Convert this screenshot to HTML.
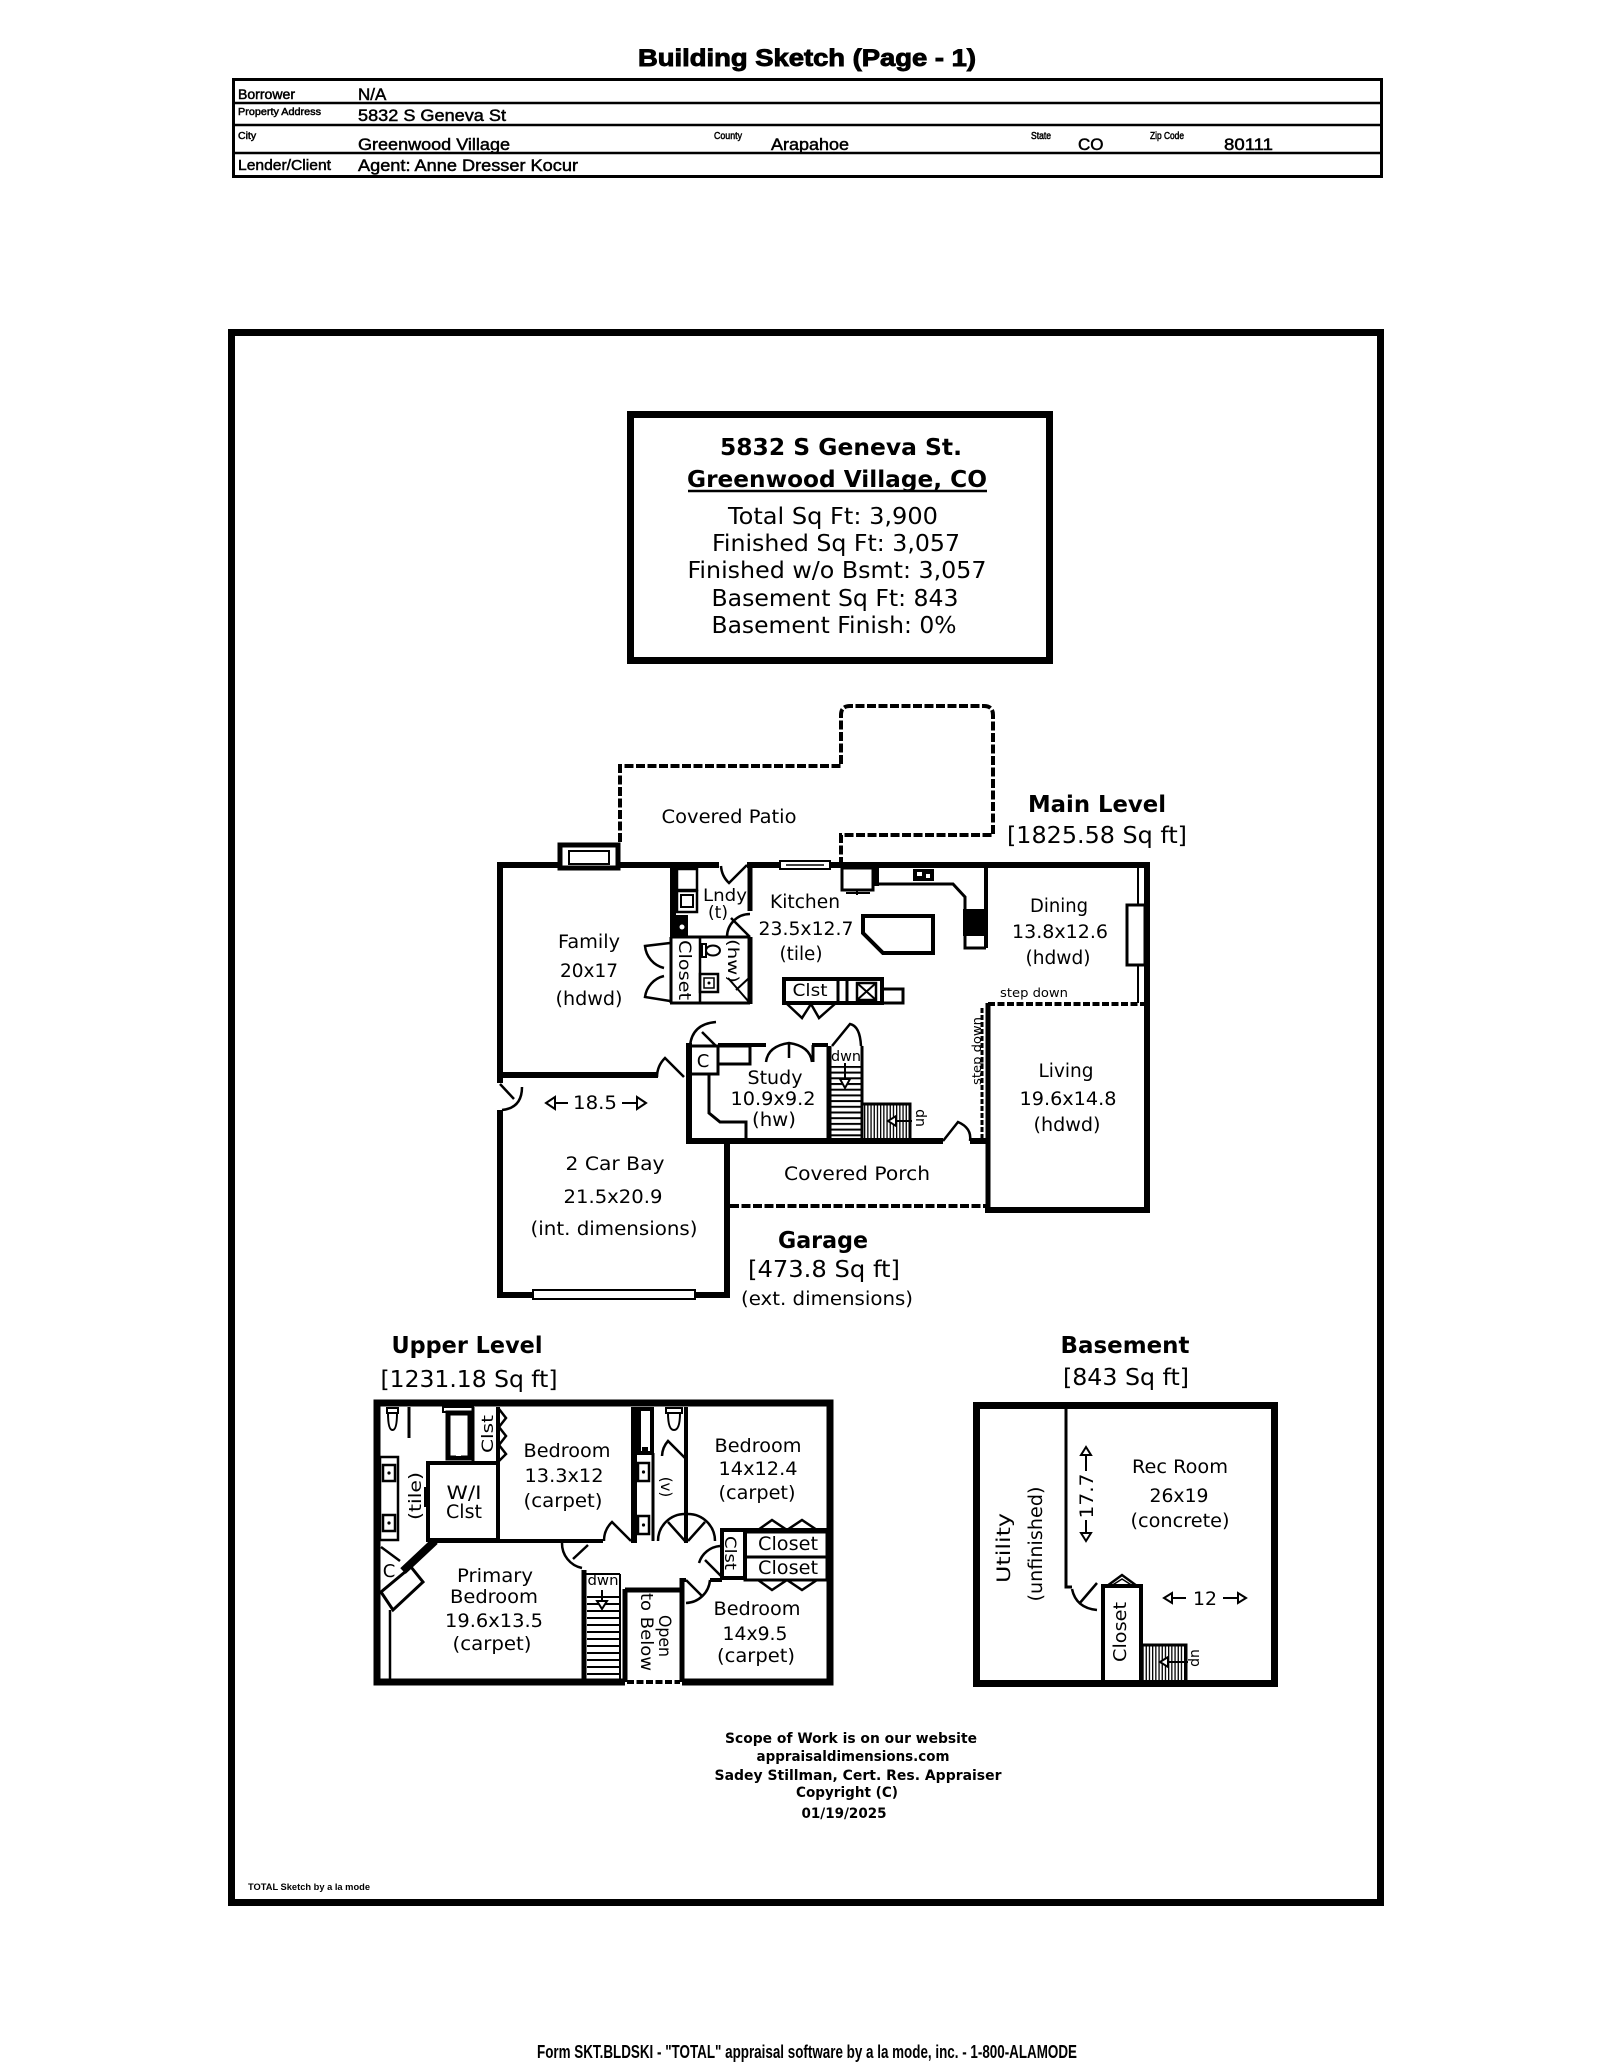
<!DOCTYPE html>
<html><head><meta charset="utf-8"><style>
html,body{margin:0;padding:0;background:#fff}
svg{display:block}
.d{font-family:"DejaVu Sans",sans-serif;fill:#000;text-anchor:middle}
.l{font-family:"Liberation Sans",Arial,sans-serif;fill:#000}
.s{fill:none;stroke:#000}
</style></head><body>
<svg xmlns="http://www.w3.org/2000/svg" width="1600" height="2071" viewBox="0 0 1600 2071">
<defs>
<pattern id="hz" width="10" height="5.7" patternUnits="userSpaceOnUse"><rect width="10" height="2" fill="#000"/></pattern>
<pattern id="hz2" width="10" height="7" patternUnits="userSpaceOnUse"><rect width="10" height="2" fill="#000"/></pattern>
<pattern id="vt" width="3.2" height="10" patternUnits="userSpaceOnUse"><rect width="1.3" height="10" fill="#000"/></pattern>
</defs>
<rect width="1600" height="2071" fill="#fff"/>

<!-- HEADER -->
<text class="l" x="807" y="66" font-size="24" font-weight="bold" text-anchor="middle" textLength="338" lengthAdjust="spacingAndGlyphs" stroke="#000" stroke-width="0.9">Building Sketch (Page - 1)</text>
<rect x="233.5" y="79.5" width="1148" height="97" class="s" stroke-width="3"/>
<path class="s" stroke-width="2.5" d="M233,103H1382M233,125H1382M233,153H1382"/>
<g class="l" stroke="#000" stroke-width="0.5">
<text x="238" y="99" font-size="14" textLength="57" lengthAdjust="spacingAndGlyphs">Borrower</text>
<text x="358" y="100" font-size="17">N/A</text>
<text x="238" y="115" font-size="10.5" textLength="83" lengthAdjust="spacingAndGlyphs">Property Address</text>
<text x="358" y="121" font-size="17" textLength="148" lengthAdjust="spacingAndGlyphs">5832 S Geneva St</text>
<text x="238" y="139" font-size="10.5">City</text>
<text x="358" y="150" font-size="17" textLength="152" lengthAdjust="spacingAndGlyphs">Greenwood Village</text>
<text x="714" y="139" font-size="10.5" textLength="28" lengthAdjust="spacingAndGlyphs">County</text>
<text x="771" y="150" font-size="17" textLength="78" lengthAdjust="spacingAndGlyphs">Arapahoe</text>
<text x="1031" y="139" font-size="10" textLength="20" lengthAdjust="spacingAndGlyphs">State</text>
<text x="1078" y="150" font-size="17">CO</text>
<text x="1150" y="139" font-size="10" textLength="34" lengthAdjust="spacingAndGlyphs">Zip Code</text>
<text x="1224" y="150" font-size="17" textLength="49" lengthAdjust="spacingAndGlyphs">80111</text>
<text x="238" y="170" font-size="15" textLength="93" lengthAdjust="spacingAndGlyphs">Lender/Client</text>
<text x="358" y="171" font-size="17" textLength="220" lengthAdjust="spacingAndGlyphs">Agent: Anne Dresser Kocur</text>
</g>

<!-- FRAME -->
<rect x="231.5" y="332.5" width="1149" height="1570" class="s" stroke-width="7"/>

<!-- INFO BOX -->
<rect x="630.5" y="414.5" width="419" height="246" class="s" stroke-width="7"/>
<text class="d" x="841" y="455" font-size="23.5" font-weight="bold" textLength="242" lengthAdjust="spacingAndGlyphs">5832 S Geneva St.</text>
<text class="d" x="837" y="487" font-size="23.5" font-weight="bold" textLength="300" lengthAdjust="spacingAndGlyphs">Greenwood Village, CO</text>
<path class="s" stroke-width="2.5" d="M688,491H987"/>
<text class="d" x="833" y="524" font-size="23.5" textLength="210" lengthAdjust="spacingAndGlyphs">Total Sq Ft: 3,900</text>
<text class="d" x="836" y="551" font-size="23.5" textLength="248" lengthAdjust="spacingAndGlyphs">Finished Sq Ft: 3,057</text>
<text class="d" x="837" y="578" font-size="23.5" textLength="299" lengthAdjust="spacingAndGlyphs">Finished w/o Bsmt: 3,057</text>
<text class="d" x="835" y="606" font-size="23.5" textLength="247" lengthAdjust="spacingAndGlyphs">Basement Sq Ft: 843</text>
<text class="d" x="834" y="633" font-size="23.5" textLength="245" lengthAdjust="spacingAndGlyphs">Basement Finish: 0%</text>

<!-- ===== MAIN LEVEL ===== -->
<path class="s" stroke-width="4" stroke-dasharray="9 2.5" d="M620,842V766H841V715Q841,706 850,706H984Q993,706 993,715V835H841V862"/>
<text class="d" x="729" y="823" font-size="18.5" textLength="135" lengthAdjust="spacingAndGlyphs">Covered Patio</text>
<text class="d" x="1097" y="812" font-size="23.5" font-weight="bold" textLength="138" lengthAdjust="spacingAndGlyphs">Main Level</text>
<text class="d" x="1097" y="843" font-size="23.5" textLength="180" lengthAdjust="spacingAndGlyphs">[1825.58 Sq ft]</text>

<!-- exterior walls -->
<path class="s" stroke-width="6" d="M497,865H560M618,865H719M747,865H780M830,865H1150M1147,862V1213M985,1210H1150M686,1141H943M970,1141H990M727,1141V1298M497,1295H730M500,862V1083M500,1110V1298M500,1075H658M689,1043V1144"/>
<path class="s" stroke-width="5" d="M988,1003V1213"/>
<path class="s" stroke-width="3" stroke-dasharray="5 2" d="M982,1008V1138"/>
<path class="s" stroke-width="4" stroke-dasharray="9 2.5" d="M730,1206H986"/>
<path class="s" stroke-width="4" stroke-dasharray="7 2.5" d="M988,1004H1145"/>
<!-- fireplace -->
<rect x="560" y="845" width="58" height="23" fill="#fff" stroke="#000" stroke-width="5"/>
<rect x="569" y="851" width="40" height="13" class="s" stroke-width="2"/>
<path class="s" stroke-width="2" d="M576,864H602"/>
<!-- window top -->
<rect x="780" y="861" width="50" height="8" fill="#fff" stroke="#000" stroke-width="2"/>
<path class="s" stroke-width="1.5" d="M786,865H824"/>
<!-- garage door -->
<rect x="533" y="1290" width="162" height="9" fill="#fff" stroke="#000" stroke-width="2"/>
<!-- garage side door -->
<path class="s" stroke-width="2.5" d="M500,1084L514,1099M522,1087Q522,1108 502,1110"/>
<!-- family door -->
<path class="s" stroke-width="2.5" d="M684,1077L665,1058A27,27 0 0 0 657,1077"/>
<!-- laundry -->
<path class="s" stroke-width="6" d="M673,867V937"/>
<rect x="677" y="869" width="20" height="21" class="s" stroke-width="2.5"/>
<rect x="677" y="891" width="20" height="21" class="s" stroke-width="2.5"/>
<rect x="681" y="895" width="12" height="12" class="s" stroke-width="2"/>
<rect x="676" y="915" width="12" height="21" fill="#000"/>
<circle cx="682" cy="927" r="2.5" fill="#fff"/>
<path class="s" stroke-width="5" d="M750,862V911M750,937V1004"/>
<path class="s" stroke-width="2.5" d="M747,865L729,883A25.5,25.5 0 0 1 721,866"/>
<path class="s" stroke-width="2.5" d="M750,937L731,918M727,937A23,23 0 0 1 750,914"/>
<text class="d" x="725" y="901" font-size="17" textLength="44" lengthAdjust="spacingAndGlyphs">Lndy</text>
<text class="d" x="718" y="918" font-size="17">(t)</text>
<!-- closet & bath -->
<path class="s" stroke-width="3" d="M670,937H750M670,1003H750M671,937V1003"/>
<path class="s" stroke-width="2.5" d="M700,937V1003"/>
<path class="s" stroke-width="2.5" d="M670,943L645,946A25,25 0 0 0 664,968M670,1001L645,997A25,25 0 0 1 664,976"/>
<text class="d" transform="translate(685,970) rotate(90)" x="0" y="6" font-size="16.5" textLength="60" lengthAdjust="spacingAndGlyphs">Closet</text>
<rect x="702" y="944" width="4" height="13" class="s" stroke-width="2"/>
<ellipse cx="713" cy="950.5" rx="7" ry="5" class="s" stroke-width="2"/>
<rect x="700" y="974" width="18" height="18" class="s" stroke-width="2.5"/>
<rect x="704" y="978" width="10" height="10" class="s" stroke-width="1.5"/>
<circle cx="709" cy="983" r="1.5" fill="#000"/>
<text class="d" transform="translate(733,961) rotate(90)" x="0" y="5" font-size="15" textLength="44" lengthAdjust="spacingAndGlyphs">(hw)</text>
<path class="s" stroke-width="2" d="M728,978L749,1002M736,990L749,978"/>
<!-- family text -->
<text class="d" x="589" y="948" font-size="18.5" textLength="62" lengthAdjust="spacingAndGlyphs">Family</text>
<text class="d" x="589" y="977" font-size="18.5" textLength="58" lengthAdjust="spacingAndGlyphs">20x17</text>
<text class="d" x="589" y="1005" font-size="18.5" textLength="67" lengthAdjust="spacingAndGlyphs">(hdwd)</text>
<!-- kitchen -->
<rect x="842" y="868" width="31" height="22" class="s" stroke-width="3"/>
<path class="s" stroke-width="2" d="M846,893H870M857,890V895"/>
<rect x="873" y="867" width="6" height="19" fill="#000"/>
<path class="s" stroke-width="3" d="M879,884H953L965,897V948H986"/>
<rect x="913" y="869" width="21" height="12" fill="#000"/>
<rect x="917" y="872" width="5" height="4" fill="#fff"/>
<rect x="926" y="874" width="4" height="4" fill="#fff"/>
<rect x="963" y="909" width="23" height="27" fill="#000"/>
<path class="s" stroke-width="4" d="M986,865V948"/>
<path class="s" stroke-width="4" d="M863,916H933V953H883L863,933Z"/>
<text class="d" x="805" y="908" font-size="18.5" textLength="70" lengthAdjust="spacingAndGlyphs">Kitchen</text>
<text class="d" x="806" y="935" font-size="18.5" textLength="95" lengthAdjust="spacingAndGlyphs">23.5x12.7</text>
<text class="d" x="801" y="960" font-size="18.5" textLength="43" lengthAdjust="spacingAndGlyphs">(tile)</text>
<!-- Clst block -->
<rect x="784" y="979" width="98" height="24" class="s" stroke-width="4"/>
<path class="s" stroke-width="3" d="M838,979V1003M847,979V1003"/>
<rect x="857" y="983" width="19" height="17" class="s" stroke-width="2.5"/>
<path class="s" stroke-width="2" d="M857,983L876,1000M876,983L857,1000"/>
<path class="s" stroke-width="3" d="M882,989H903V1003H882"/>
<path class="s" stroke-width="2.5" d="M786,1003L802,1018L811,1004L819,1018L836,1003"/>
<text class="d" x="810" y="996" font-size="17" textLength="35" lengthAdjust="spacingAndGlyphs">Clst</text>
<!-- dining -->
<rect x="1127" y="905" width="18" height="60" fill="#fff" stroke="#000" stroke-width="3"/>
<path class="s" stroke-width="2" d="M1138,867V905M1138,965V1003"/>
<text class="d" x="1059" y="912" font-size="18.5" textLength="58" lengthAdjust="spacingAndGlyphs">Dining</text>
<text class="d" x="1060" y="938" font-size="18.5" textLength="96" lengthAdjust="spacingAndGlyphs">13.8x12.6</text>
<text class="d" x="1058" y="964" font-size="18.5" textLength="65" lengthAdjust="spacingAndGlyphs">(hdwd)</text>
<text class="d" x="1034" y="997" font-size="12" textLength="68" lengthAdjust="spacingAndGlyphs">step down</text>
<text class="d" transform="translate(977,1051) rotate(-90)" x="0" y="4" font-size="12" textLength="68" lengthAdjust="spacingAndGlyphs">step down</text>
<!-- living -->
<text class="d" x="1066" y="1077" font-size="18.5" textLength="55" lengthAdjust="spacingAndGlyphs">Living</text>
<text class="d" x="1068" y="1105" font-size="18.5" textLength="97" lengthAdjust="spacingAndGlyphs">19.6x14.8</text>
<text class="d" x="1067" y="1131" font-size="18.5" textLength="67" lengthAdjust="spacingAndGlyphs">(hdwd)</text>
<!-- study -->
<rect x="688" y="1046" width="30" height="28" class="s" stroke-width="3"/>
<text class="d" x="703" y="1067" font-size="18">C</text>
<path class="s" stroke-width="2.5" d="M690,1046Q692,1024 716,1022M702,1032L716,1046"/>
<path class="s" stroke-width="4" d="M718,1045H766M812,1045H828"/>
<path class="s" stroke-width="3" d="M813,1045V1062"/>
<rect x="718" y="1046" width="32" height="18" class="s" stroke-width="3"/>
<path class="s" stroke-width="2.5" d="M766,1062Q768,1046 789,1043Q810,1046 812,1062M789,1043V1058"/>
<path class="s" stroke-width="3" d="M709,1075V1113L720,1122H746V1141"/>
<text class="d" x="775" y="1084" font-size="18.5" textLength="55" lengthAdjust="spacingAndGlyphs">Study</text>
<text class="d" x="773" y="1105" font-size="18.5" textLength="85" lengthAdjust="spacingAndGlyphs">10.9x9.2</text>
<text class="d" x="774" y="1126" font-size="18.5" textLength="44" lengthAdjust="spacingAndGlyphs">(hw)</text>
<!-- stairs -->
<path class="s" stroke-width="2.5" d="M832,1046L850,1024Q860,1026 861,1046"/>
<rect x="829" y="1066" width="32" height="73" fill="url(#hz)"/>
<path class="s" stroke-width="5" d="M829,1046V1141"/>
<path class="s" stroke-width="3" d="M862,1046V1141M862,1104H910V1141"/>
<rect x="863" y="1105" width="46" height="35" fill="url(#vt)"/>
<text class="d" x="846" y="1061" font-size="14" textLength="30" lengthAdjust="spacingAndGlyphs">dwn</text>
<path class="s" stroke-width="2" d="M845,1063V1084"/>
<polygon points="840,1079 845,1088 850,1079" fill="#fff" stroke="#000" stroke-width="2"/>
<path class="s" stroke-width="2" d="M912,1121H893"/>
<polygon points="888,1121 896,1116 896,1126" fill="#fff" stroke="#000" stroke-width="2"/>
<text class="d" transform="translate(919,1118) rotate(-90)" x="0" y="5" font-size="14">up</text>
<!-- porch door -->
<path class="s" stroke-width="2.5" d="M943,1141L958,1122Q972,1128 970,1141"/>
<text class="d" x="857" y="1180" font-size="18.5" textLength="146" lengthAdjust="spacingAndGlyphs">Covered Porch</text>
<!-- garage text -->
<text class="d" x="595" y="1109" font-size="18.5" textLength="44" lengthAdjust="spacingAndGlyphs">18.5</text>
<path class="s" stroke-width="2" d="M550,1103H568M622,1103H642"/>
<polygon points="546,1103 555,1097 555,1109" fill="#fff" stroke="#000" stroke-width="2"/>
<polygon points="646,1103 637,1097 637,1109" fill="#fff" stroke="#000" stroke-width="2"/>
<text class="d" x="615" y="1170" font-size="18.5" textLength="99" lengthAdjust="spacingAndGlyphs">2 Car Bay</text>
<text class="d" x="613" y="1203" font-size="18.5" textLength="99" lengthAdjust="spacingAndGlyphs">21.5x20.9</text>
<text class="d" x="614" y="1235" font-size="18.5" textLength="167" lengthAdjust="spacingAndGlyphs">(int. dimensions)</text>
<text class="d" x="823" y="1248" font-size="23.5" font-weight="bold" textLength="90" lengthAdjust="spacingAndGlyphs">Garage</text>
<text class="d" x="824" y="1277" font-size="23" textLength="152" lengthAdjust="spacingAndGlyphs">[473.8 Sq ft]</text>
<text class="d" x="827" y="1305" font-size="18.5" textLength="172" lengthAdjust="spacingAndGlyphs">(ext. dimensions)</text>

<!-- ===== UPPER LEVEL ===== -->
<text class="d" x="467" y="1353" font-size="23.5" font-weight="bold" textLength="151" lengthAdjust="spacingAndGlyphs">Upper Level</text>
<text class="d" x="469" y="1387" font-size="23.5" textLength="177" lengthAdjust="spacingAndGlyphs">[1231.18 Sq ft]</text>
<path class="s" stroke-width="7" d="M682,1682H830V1403H377V1682H625"/>
<path class="s" stroke-width="4" stroke-dasharray="7 2.5" d="M627,1682H680"/>
<!-- primary bath -->
<rect x="387" y="1408" width="11" height="5" class="s" stroke-width="2"/>
<path class="s" stroke-width="2" d="M388,1413Q388,1430 392.5,1430Q397,1430 397,1413"/>
<path class="s" stroke-width="3" d="M409,1407V1438"/>
<rect x="443" y="1407" width="30" height="5" fill="#fff" stroke="#000" stroke-width="2"/>
<rect x="448" y="1413" width="22" height="45" class="s" stroke-width="5"/>
<rect x="456" y="1452" width="5" height="4" fill="#fff"/>
<path class="s" stroke-width="3" d="M473,1407V1463"/>
<path class="s" stroke-width="2.5" d="M499,1409L506,1418L499,1427L506,1436L499,1445L506,1454L499,1461"/>
<text class="d" transform="translate(487,1434) rotate(-90)" x="0" y="6" font-size="16" textLength="38" lengthAdjust="spacingAndGlyphs">Clst</text>
<rect x="428" y="1463" width="70" height="77" class="s" stroke-width="4"/>
<text class="d" x="464" y="1499" font-size="18.5" textLength="35" lengthAdjust="spacingAndGlyphs">W/I</text>
<text class="d" x="464" y="1518" font-size="18.5" textLength="36" lengthAdjust="spacingAndGlyphs">Clst</text>
<rect x="380" y="1457" width="18" height="83" class="s" stroke-width="2.5"/>
<rect x="383" y="1465" width="12" height="16" class="s" stroke-width="2.5"/>
<circle cx="389" cy="1473" r="1.6" fill="#000"/>
<rect x="383" y="1515" width="12" height="16" class="s" stroke-width="2.5"/>
<circle cx="389" cy="1523" r="1.6" fill="#000"/>
<path class="s" stroke-width="4" d="M426,1487V1507"/>
<text class="d" transform="translate(415,1496) rotate(-90)" x="0" y="6" font-size="17" textLength="48" lengthAdjust="spacingAndGlyphs">(tile)</text>
<path class="s" stroke-width="8" d="M435,1541L403,1571"/>
<path class="s" stroke-width="3" d="M381,1592L393,1610L423,1582L411,1567Z"/>
<path class="s" stroke-width="2.5" d="M381,1547L400,1561M390,1610V1680"/>
<text class="d" x="389" y="1577" font-size="18">C</text>
<!-- bedroom 13.3x12 -->
<path class="s" stroke-width="4" d="M498,1407V1463M428,1541H603"/>
<path class="s" stroke-width="6" d="M634,1407V1543"/>
<path class="s" stroke-width="2.5" d="M631,1541L612,1522A26,26 0 0 0 604,1541"/>
<text class="d" x="567" y="1457" font-size="19" textLength="87" lengthAdjust="spacingAndGlyphs">Bedroom</text>
<text class="d" x="564" y="1482" font-size="19" textLength="79" lengthAdjust="spacingAndGlyphs">13.3x12</text>
<text class="d" x="563" y="1507" font-size="19" textLength="79" lengthAdjust="spacingAndGlyphs">(carpet)</text>
<!-- middle bath -->
<rect x="639" y="1409" width="13" height="44" class="s" stroke-width="4"/>
<rect x="642" y="1447" width="6" height="6" fill="#000"/>
<path class="s" stroke-width="3" d="M653,1453V1541"/>
<rect x="638" y="1463" width="11" height="18" class="s" stroke-width="2.5"/>
<circle cx="643.5" cy="1472" r="1.6" fill="#000"/>
<rect x="638" y="1516" width="11" height="18" class="s" stroke-width="2.5"/>
<circle cx="643.5" cy="1525" r="1.6" fill="#000"/>
<rect x="666" y="1408" width="16" height="5" class="s" stroke-width="2"/>
<path class="s" stroke-width="2" d="M668,1413Q668,1430 674,1430Q680,1430 680,1413"/>
<path class="s" stroke-width="2.5" d="M685,1458L668,1441A24,24 0 0 0 662,1456"/>
<text class="d" transform="translate(666,1487) rotate(90)" x="0" y="5" font-size="15">(v)</text>
<path class="s" stroke-width="4" d="M686,1407V1543"/>
<path class="s" stroke-width="2.5" d="M658,1541A27,27 0 0 1 685,1514M685,1541L668,1522M715,1541A27,27 0 0 0 688,1514M688,1541L705,1522"/>
<!-- bedroom 14x12.4 & closets -->
<path class="s" stroke-width="4" d="M722,1530H827"/>
<path class="s" stroke-width="2.5" d="M758,1530L772,1520L787,1530L802,1520L817,1530"/>
<rect x="722" y="1530" width="23" height="48" class="s" stroke-width="4"/>
<text class="d" transform="translate(731,1553) rotate(90)" x="0" y="6" font-size="16" textLength="34" lengthAdjust="spacingAndGlyphs">Clst</text>
<rect x="745" y="1532" width="82" height="25" class="s" stroke-width="3"/>
<rect x="745" y="1557" width="82" height="23" class="s" stroke-width="3"/>
<path class="s" stroke-width="2.5" d="M758,1580L772,1590L787,1580L802,1590L817,1580"/>
<text class="d" x="788" y="1550" font-size="19" textLength="60" lengthAdjust="spacingAndGlyphs">Closet</text>
<text class="d" x="788" y="1574" font-size="19" textLength="60" lengthAdjust="spacingAndGlyphs">Closet</text>
<path class="s" stroke-width="2.5" d="M699,1563A24,24 0 0 1 720,1546M722,1577L705,1560"/>
<text class="d" x="758" y="1452" font-size="19" textLength="87" lengthAdjust="spacingAndGlyphs">Bedroom</text>
<text class="d" x="758" y="1475" font-size="19" textLength="79" lengthAdjust="spacingAndGlyphs">14x12.4</text>
<text class="d" x="757" y="1499" font-size="19" textLength="77" lengthAdjust="spacingAndGlyphs">(carpet)</text>
<!-- bedroom 14x9.5 -->
<path class="s" stroke-width="4" d="M682,1580H686M710,1580H722"/>
<path class="s" stroke-width="2.5" d="M686,1580L703,1597M710,1580A25,25 0 0 1 686,1603"/>
<path class="s" stroke-width="5" d="M682,1578V1682"/>
<text class="d" x="757" y="1615" font-size="19" textLength="87" lengthAdjust="spacingAndGlyphs">Bedroom</text>
<text class="d" x="755" y="1640" font-size="19" textLength="65" lengthAdjust="spacingAndGlyphs">14x9.5</text>
<text class="d" x="756" y="1662" font-size="19" textLength="78" lengthAdjust="spacingAndGlyphs">(carpet)</text>
<!-- open to below & stairs -->
<path class="s" stroke-width="5" d="M625,1589V1682M625,1590H682"/>
<text class="d" transform="translate(665,1636) rotate(90)" x="0" y="6" font-size="17" textLength="42" lengthAdjust="spacingAndGlyphs">Open</text>
<text class="d" transform="translate(647,1632) rotate(90)" x="0" y="6" font-size="17" textLength="78" lengthAdjust="spacingAndGlyphs">to Below</text>
<rect x="587" y="1592" width="33" height="87" fill="url(#hz2)"/>
<path class="s" stroke-width="5" d="M584,1570V1682"/>
<path class="s" stroke-width="2" d="M620,1574V1680M585,1574H620"/>
<text class="d" x="603" y="1585" font-size="14" textLength="31" lengthAdjust="spacingAndGlyphs">dwn</text>
<path class="s" stroke-width="2" d="M602,1590V1604"/>
<polygon points="597,1601 602,1609 607,1601" fill="#fff" stroke="#000" stroke-width="2"/>
<path class="s" stroke-width="2.5" d="M562,1543A25,25 0 0 0 582,1568M573,1559L588,1545"/>
<text class="d" x="495" y="1582" font-size="19" textLength="76" lengthAdjust="spacingAndGlyphs">Primary</text>
<text class="d" x="494" y="1603" font-size="19" textLength="88" lengthAdjust="spacingAndGlyphs">Bedroom</text>
<text class="d" x="494" y="1627" font-size="19" textLength="98" lengthAdjust="spacingAndGlyphs">19.6x13.5</text>
<text class="d" x="492" y="1650" font-size="19" textLength="79" lengthAdjust="spacingAndGlyphs">(carpet)</text>

<!-- ===== BASEMENT ===== -->
<text class="d" x="1125" y="1353" font-size="23.5" font-weight="bold" textLength="129" lengthAdjust="spacingAndGlyphs">Basement</text>
<text class="d" x="1126" y="1385" font-size="23.5" textLength="126" lengthAdjust="spacingAndGlyphs">[843 Sq ft]</text>
<rect x="976.5" y="1405.5" width="298" height="278" class="s" stroke-width="7"/>
<path class="s" stroke-width="3" d="M1066,1408V1587H1072"/>
<path class="s" stroke-width="2.5" d="M1097,1583L1079,1604M1072,1589Q1076,1608 1097,1610"/>
<path class="s" stroke-width="4" d="M1103,1684V1586H1141V1684"/>
<path class="s" stroke-width="2.5" d="M1107,1586L1122,1575L1137,1586"/>
<path class="s" stroke-width="1.5" d="M1111,1586L1122,1579L1133,1586"/>
<rect x="1142" y="1646" width="43" height="36" fill="url(#vt)"/>
<path class="s" stroke-width="3" d="M1141,1645H1186V1682"/>
<path class="s" stroke-width="2" d="M1188,1662H1166"/>
<polygon points="1160,1662 1168,1657 1168,1667" fill="#fff" stroke="#000" stroke-width="2"/>
<text class="d" transform="translate(1196,1658) rotate(90)" x="0" y="5" font-size="14">up</text>
<text class="d" transform="translate(1120,1632) rotate(-90)" x="0" y="6" font-size="18" textLength="60" lengthAdjust="spacingAndGlyphs">Closet</text>
<text class="d" transform="translate(1004,1548) rotate(-90)" x="0" y="6" font-size="18.5" textLength="70" lengthAdjust="spacingAndGlyphs">Utility</text>
<text class="d" transform="translate(1036,1544) rotate(-90)" x="0" y="6" font-size="18.5" textLength="115" lengthAdjust="spacingAndGlyphs">(unfinished)</text>
<text class="d" transform="translate(1087,1496) rotate(-90)" x="0" y="6" font-size="18.5" textLength="45" lengthAdjust="spacingAndGlyphs">17.7</text>
<path class="s" stroke-width="2" d="M1086,1452V1471M1086,1520V1536"/>
<polygon points="1086,1447 1081,1455 1091,1455" fill="#fff" stroke="#000" stroke-width="2"/>
<polygon points="1086,1541 1081,1533 1091,1533" fill="#fff" stroke="#000" stroke-width="2"/>
<text class="d" x="1180" y="1473" font-size="18.5" textLength="96" lengthAdjust="spacingAndGlyphs">Rec Room</text>
<text class="d" x="1179" y="1502" font-size="18.5" textLength="59" lengthAdjust="spacingAndGlyphs">26x19</text>
<text class="d" x="1180" y="1527" font-size="18.5" textLength="99" lengthAdjust="spacingAndGlyphs">(concrete)</text>
<text class="d" x="1205" y="1605" font-size="19" textLength="24" lengthAdjust="spacingAndGlyphs">12</text>
<path class="s" stroke-width="2" d="M1168,1598H1186M1223,1598H1241"/>
<polygon points="1164,1598 1172,1593 1172,1603" fill="#fff" stroke="#000" stroke-width="2"/>
<polygon points="1246,1598 1238,1593 1238,1603" fill="#fff" stroke="#000" stroke-width="2"/>

<!-- COPYRIGHT -->
<g class="d" font-size="14" font-weight="bold">
<text x="851" y="1743" textLength="252" lengthAdjust="spacingAndGlyphs">Scope of Work is on our website</text>
<text x="853" y="1761" textLength="193" lengthAdjust="spacingAndGlyphs">appraisaldimensions.com</text>
<text x="858" y="1780" textLength="287" lengthAdjust="spacingAndGlyphs">Sadey Stillman, Cert. Res. Appraiser</text>
<text x="847" y="1797" textLength="102" lengthAdjust="spacingAndGlyphs">Copyright (C)</text>
<text x="844" y="1818" textLength="85" lengthAdjust="spacingAndGlyphs">01/19/2025</text>
</g>

<text class="l" x="248" y="1890" font-size="9.5" font-weight="bold" textLength="122" lengthAdjust="spacingAndGlyphs">TOTAL Sketch by a la mode</text>
<text class="l" x="807" y="2058" font-size="18" font-weight="bold" text-anchor="middle" textLength="540" lengthAdjust="spacingAndGlyphs">Form SKT.BLDSKI - "TOTAL" appraisal software by a la mode, inc. - 1-800-ALAMODE</text>
</svg>
</body></html>
